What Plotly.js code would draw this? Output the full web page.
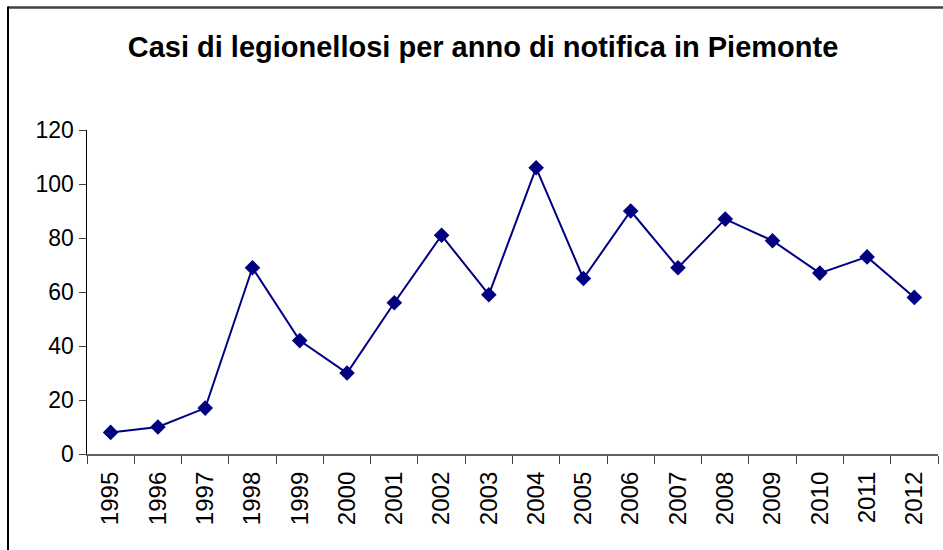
<!DOCTYPE html>
<html>
<head>
<meta charset="utf-8">
<script src="https://cdn.plot.ly/plotly-3.0.1.min.js"></script>
<style>
  html, body { margin: 0; padding: 0; background: #fff; }
  #chart { width: 943px; height: 550px; }
</style>
</head>
<body>
<div id="chart"></div>
<script>
const years = ["1995","1996","1997","1998","1999","2000","2001","2002","2003","2004","2005","2006","2007","2008","2009","2010","2011","2012"];
const cases = [8, 10, 17, 69, 42, 30, 56, 81, 59, 106, 65, 90, 69, 87, 79, 67, 73, 58];
const yTicks = [0, 20, 40, 60, 80, 100, 120];
const titleText = "Casi di legionellosi per anno di notifica in Piemonte";

const W = 943, H = 550, L = 87, R = 5, T = 130, B = 96;
const pw = W - L - R, ph = H - T - B;
const px = v => (v - L) / pw;
const py = v => (H - B - v) / ph;

const trace = {
  x: years,
  y: cases,
  type: "scatter",
  mode: "lines+markers",
  line: { color: "#000080", width: 2 },
  marker: { symbol: "diamond", size: 12, color: "#000080" },
  hoverinfo: "x+y"
};

const layout = {
  width: W,
  height: H,
  margin: { l: L, r: R, t: T, b: B, pad: 0 },
  paper_bgcolor: "#ffffff",
  plot_bgcolor: "#ffffff",
  showlegend: false,
  font: { family: "Liberation Sans, Arial, sans-serif", color: "#000000", size: 23 },
  title: {
    text: titleText,
    font: { family: "Liberation Sans, Arial, sans-serif", size: 29, weight: "bold", color: "#000000" },
    x: 483 / W,
    xanchor: "center",
    xref: "container",
    y: 1 - 47 / H,
    yanchor: "middle",
    yref: "container"
  },
  xaxis: {
    type: "category",
    categoryorder: "array",
    categoryarray: years,
    range: [-0.5, years.length - 0.5],
    tickmode: "array",
    tickvals: years,
    ticktext: years.map(y => y + "\u00a0"),
    tickson: "boundaries",
    ticks: "outside",
    ticklen: 8,
    tickwidth: 1,
    tickcolor: "#404040",
    showline: true,
    linecolor: "#606060",
    linewidth: 1.5,
    showgrid: false,
    zeroline: false,
    tickangle: -90,
    tickfont: { size: 24, color: "#000000" }
  },
  yaxis: {
    range: [0, 120],
    tickvals: yTicks,
    ticktext: yTicks.map(String),
    ticks: "outside",
    ticklen: 7,
    tickwidth: 1,
    tickcolor: "#404040",
    showline: true,
    linecolor: "#000000",
    linewidth: 1.5,
    showgrid: false,
    zeroline: false,
    tickfont: { size: 23, color: "#000000" }
  },
  shapes: [
    { type: "line", xref: "paper", yref: "paper", x0: px(8), x1: px(943), y0: py(7.5), y1: py(7.5),
      line: { color: "#404040", width: 2.5 } },
    { type: "line", xref: "paper", yref: "paper", x0: px(8), x1: px(8), y0: py(6.5), y1: py(550),
      line: { color: "#000000", width: 2 } }
  ]
};

Plotly.newPlot("chart", [trace], layout, { displayModeBar: false, staticPlot: true });
</script>
</body>
</html>
